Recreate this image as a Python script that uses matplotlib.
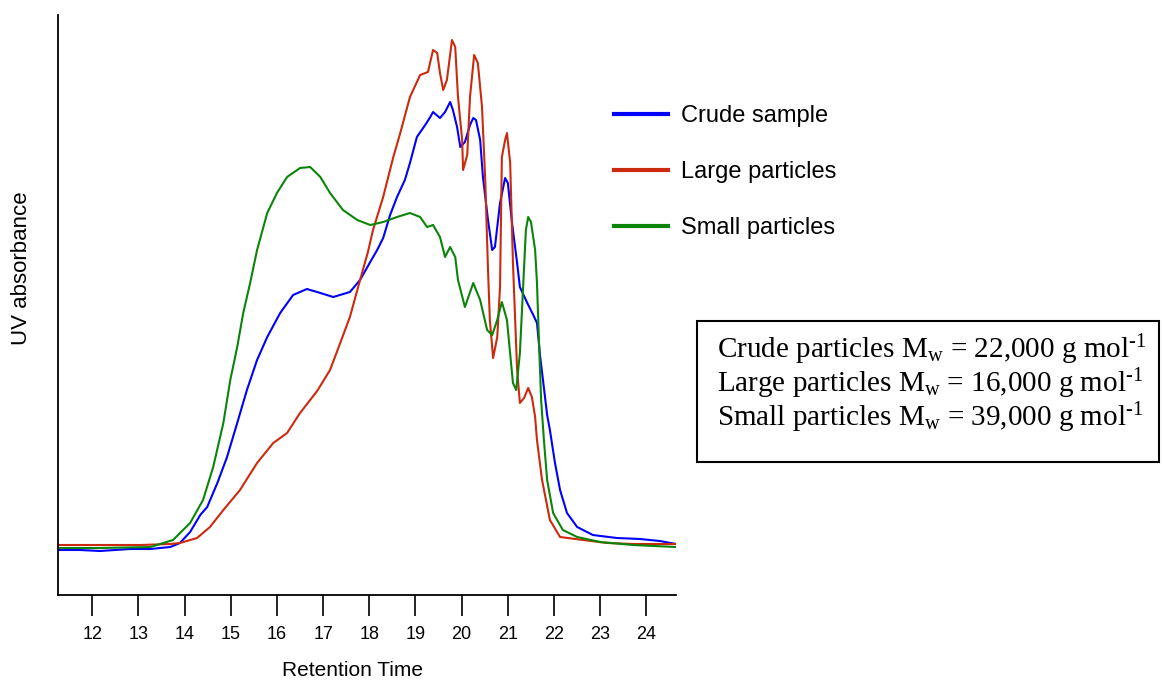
import matplotlib
matplotlib.use("Agg")
import matplotlib.pyplot as plt
from matplotlib.patches import Rectangle
from matplotlib.lines import Line2D

plt.rcParams["font.family"] = ["Liberation Sans", "DejaVu Sans"]
plt.rcParams["mathtext.fontset"] = "custom"
plt.rcParams["mathtext.rm"] = "Liberation Serif"
plt.rcParams["mathtext.it"] = "Liberation Serif:italic"

# ---------- data (retention time, UV absorbance a.u.) ----------
crude_t = [11.26, 11.74, 12.17, 12.82, 13.26, 13.69, 13.90, 14.12, 14.34, 14.49,
           14.71, 14.92, 15.14, 15.35, 15.57, 15.79, 16.07, 16.35, 16.65, 16.94,
           17.22, 17.58, 17.80, 18.02, 18.17, 18.30, 18.45, 18.60, 18.77, 18.88,
           19.03, 19.21, 19.32, 19.38, 19.53, 19.64, 19.75, 19.81, 19.90, 19.97,
           20.07, 20.18, 20.25, 20.31, 20.40, 20.46, 20.57, 20.66, 20.72, 20.83,
           20.94, 21.00, 21.09, 21.20, 21.26, 21.42, 21.55, 21.63, 21.70, 21.76,
           21.85, 21.91, 22.02, 22.13, 22.28, 22.50, 22.84, 23.36, 23.86, 24.29,
           24.64]
crude_a = [-0.4, -0.4, -0.6, -0.2, -0.2, 0.2, 1.0, 3.2, 6.6, 8.2,
           13.0, 18.2, 25.0, 31.6, 37.6, 42.2, 47.0, 50.6, 51.8, 51.0,
           50.2, 51.2, 53.6, 57.2, 59.6, 62.0, 66.6, 70.2, 73.6, 77.0,
           82.2, 84.6, 86.2, 87.2, 86.0, 87.2, 89.2, 87.6, 84.2, 80.2,
           81.2, 84.6, 86.0, 85.6, 81.6, 74.2, 65.6, 59.6, 60.2, 69.0,
           74.0, 73.0, 65.0, 57.0, 52.2, 49.0, 46.6, 45.0, 38.2, 33.6,
           26.6, 23.6, 17.0, 11.6, 7.0, 4.2, 2.6, 2.0, 1.8, 1.4,
           0.8]

large_t = [11.26, 12.17, 13.04, 13.69, 13.90, 14.27, 14.55, 14.84, 15.20, 15.57,
           15.92, 16.22, 16.50, 16.87, 17.15, 17.37, 17.58, 17.80, 17.97, 18.08,
           18.30, 18.52, 18.67, 18.88, 19.10, 19.27, 19.38, 19.47, 19.53, 19.60,
           19.68, 19.79, 19.86, 19.92, 20.01, 20.03, 20.12, 20.18, 20.27, 20.35,
           20.44, 20.51, 20.57, 20.61, 20.68, 20.77, 20.83, 20.87, 20.94, 20.98,
           21.05, 21.11, 21.20, 21.26, 21.35, 21.44, 21.52, 21.59, 21.63, 21.74,
           21.91, 22.13, 22.63, 23.15, 23.71, 24.64]
large_a = [0.6, 0.6, 0.6, 0.8, 1.0, 2.0, 4.2, 7.6, 11.6, 17.0,
           21.0, 23.0, 27.0, 31.4, 35.6, 41.0, 46.2, 53.6, 59.2, 63.6,
           70.2, 78.2, 83.0, 90.2, 94.6, 95.2, 99.6, 99.0, 95.0, 91.6,
           93.6, 101.6, 100.2, 90.2, 81.6, 75.6, 78.6, 90.2, 98.6, 97.0,
           88.2, 73.6, 55.6, 45.6, 38.0, 42.2, 52.2, 78.2, 81.6, 83.0,
           77.0, 57.0, 35.6, 29.0, 30.0, 32.0, 30.2, 26.2, 21.6, 13.6,
           5.6, 2.2, 1.6, 1.0, 0.8, 0.8]

small_t = [11.26, 12.17, 13.26, 13.75, 14.12, 14.40, 14.62, 14.84, 14.99, 15.14,
           15.27, 15.42, 15.57, 15.79, 16.00, 16.22, 16.50, 16.72, 16.94, 17.15,
           17.43, 17.74, 18.02, 18.30, 18.60, 18.88, 19.10, 19.25, 19.38, 19.53,
           19.64, 19.75, 19.86, 19.92, 20.07, 20.25, 20.40, 20.55, 20.66, 20.77,
           20.87, 20.98, 21.11, 21.18, 21.26, 21.33, 21.39, 21.44, 21.50, 21.59,
           21.63, 21.68, 21.72, 21.78, 21.85, 21.98, 22.19, 22.50, 23.00, 23.71,
           24.64]
small_a = [0.0, 0.0, 0.2, 1.6, 5.0, 9.6, 16.2, 25.0, 33.6, 40.2,
           47.0, 53.0, 59.6, 67.0, 71.0, 74.2, 76.0, 76.2, 74.2, 71.0,
           67.6, 65.6, 64.6, 65.2, 66.2, 67.0, 66.2, 64.2, 64.6, 62.2,
           58.2, 60.2, 58.2, 53.6, 48.2, 53.0, 49.6, 43.6, 42.6, 45.6,
           49.2, 45.6, 33.0, 31.6, 39.0, 52.2, 63.6, 66.2, 65.2, 59.6,
           53.0, 39.6, 29.6, 21.6, 13.6, 7.0, 3.6, 2.2, 1.2, 0.6,
           0.2]

series_names = ["Crude sample", "Large particles", "Small particles"]
series_colors = ["#0000ff", "#cc2a0e", "#0a850a"]

mw_names = ["Crude", "Large", "Small"]
mw_values = ["22,000", "16,000", "39,000"]

xticks = list(range(12, 25))

# ---------- figure ----------
fig = plt.figure(figsize=(11.62, 6.81), dpi=100)
ax = fig.add_axes([58 / 1162, 1 - 595 / 681, 618 / 1162, 580 / 681])

for t, a, c in zip([crude_t, large_t, small_t], [crude_a, large_a, small_a], series_colors):
    ax.plot(t, a, color=c, lw=1.5)

ax.set_xlim(11.26, 24.64)
ax.set_ylim(-9.4, 106.6)

ax.spines["top"].set_visible(False)
ax.spines["right"].set_visible(False)
ax.spines["left"].set_linewidth(1.3)
ax.spines["bottom"].set_linewidth(1.3)

ax.set_yticks([])
ax.set_xticks(xticks)
ax.set_xticklabels([str(x) for x in xticks], fontsize=13)
ax.tick_params(axis="x", direction="out", length=15, width=1.2, pad=7)

fig.text(352 / 1162, 1 - 671 / 681, "Retention Time", ha="center", va="center", fontsize=15)
fig.text(22 / 1162, 1 - 268 / 681, "UV absorbance", ha="center", va="center",
         rotation=90, fontsize=16)

# ---------- legend ----------
handles = [Line2D([0], [0], color=c, lw=3) for c in series_colors]
fig.legend(handles, series_names, loc="center left",
           bbox_to_anchor=(614 / 1162, 1 - 172 / 681),
           frameon=False, fontsize=17, handlelength=2.3, handletextpad=0.55,
           labelspacing=1.45, borderpad=0, borderaxespad=0)

# ---------- Mw box ----------
fig.patches.append(Rectangle((697 / 1162, 1 - 462 / 681), 462 / 1162, 141 / 681,
                             transform=fig.transFigure, fill=False, lw=1.5,
                             edgecolor="black"))
for i, (n, v) in enumerate(zip(mw_names, mw_values)):
    fig.text(717 / 1162, 1 - (350 + 34 * i) / 681,
             n + r" particles M$_{\mathrm{w}}$ = " + v + r" g mol$^{\text{-1}}$",
             ha="left", va="center", fontsize=21, family="Liberation Serif")

fig.savefig("out.png", dpi=100)
